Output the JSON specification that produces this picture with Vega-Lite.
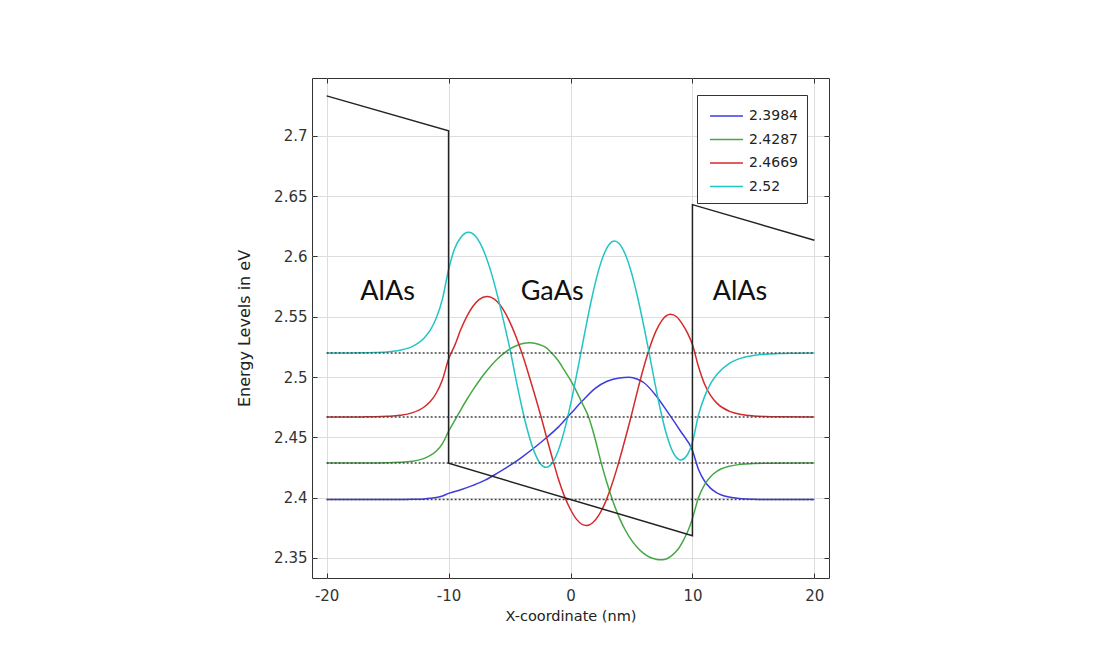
{
  "$schema": "https://vega.github.io/schema/vega-lite/v6.json",
  "width": 517,
  "height": 500,
  "autosize": {"type": "none"},
  "padding": {"left": 312, "top": 78, "right": 283, "bottom": 72},
  "background": "white",
  "config": {
    "view": {"stroke": "#333333", "strokeWidth": 1},
    "font": "DejaVu Sans",
    "axis": {
      "labelFont": "DejaVu Sans",
      "labelFontSize": 15,
      "labelColor": "#333333",
      "titleFont": "DejaVu Sans",
      "titleFontSize": 14.5,
      "titleFontWeight": "normal",
      "titleColor": "#222222",
      "domain": false,
      "tickColor": "#333333",
      "tickSize": -5,
      "tickWidth": 1,
      "gridColor": "#dddddd",
      "gridWidth": 1
    }
  },
  "resolve": {"axis": {"x": "independent", "y": "independent"}},
  "datasets": {
    "curves": [
      {"level": "2.3984", "x": -20, "E": 2.3984},
      {"level": "2.3984", "x": -14, "E": 2.3984},
      {"level": "2.3984", "x": -13, "E": 2.3986},
      {"level": "2.3984", "x": -12, "E": 2.399},
      {"level": "2.3984", "x": -11.5, "E": 2.3995},
      {"level": "2.3984", "x": -11, "E": 2.4002},
      {"level": "2.3984", "x": -10.5, "E": 2.4014},
      {"level": "2.3984", "x": -10, "E": 2.4036},
      {"level": "2.3984", "x": -9, "E": 2.4066},
      {"level": "2.3984", "x": -8, "E": 2.4102},
      {"level": "2.3984", "x": -7, "E": 2.4145},
      {"level": "2.3984", "x": -6, "E": 2.4203},
      {"level": "2.3984", "x": -5, "E": 2.4265},
      {"level": "2.3984", "x": -4, "E": 2.4335},
      {"level": "2.3984", "x": -3, "E": 2.4412},
      {"level": "2.3984", "x": -2, "E": 2.4495},
      {"level": "2.3984", "x": -1, "E": 2.4585},
      {"level": "2.3984", "x": 0, "E": 2.4695},
      {"level": "2.3984", "x": 1, "E": 2.4805},
      {"level": "2.3984", "x": 2, "E": 2.4905},
      {"level": "2.3984", "x": 3, "E": 2.4965},
      {"level": "2.3984", "x": 4, "E": 2.4993},
      {"level": "2.3984", "x": 4.8, "E": 2.4998},
      {"level": "2.3984", "x": 5.5, "E": 2.4982},
      {"level": "2.3984", "x": 6, "E": 2.4955},
      {"level": "2.3984", "x": 7, "E": 2.4848},
      {"level": "2.3984", "x": 8, "E": 2.4705},
      {"level": "2.3984", "x": 9, "E": 2.4555},
      {"level": "2.3984", "x": 10, "E": 2.4392},
      {"level": "2.3984", "x": 10.5, "E": 2.4234},
      {"level": "2.3984", "x": 11, "E": 2.4136},
      {"level": "2.3984", "x": 11.5, "E": 2.4077},
      {"level": "2.3984", "x": 12, "E": 2.404},
      {"level": "2.3984", "x": 13, "E": 2.4005},
      {"level": "2.3984", "x": 14, "E": 2.3992},
      {"level": "2.3984", "x": 15, "E": 2.3987},
      {"level": "2.3984", "x": 16, "E": 2.3985},
      {"level": "2.3984", "x": 20, "E": 2.3984},

      {"level": "2.4287", "x": -20, "E": 2.4287},
      {"level": "2.4287", "x": -16, "E": 2.4288},
      {"level": "2.4287", "x": -15, "E": 2.4289},
      {"level": "2.4287", "x": -14, "E": 2.4293},
      {"level": "2.4287", "x": -13, "E": 2.4302},
      {"level": "2.4287", "x": -12, "E": 2.4326},
      {"level": "2.4287", "x": -11.5, "E": 2.435},
      {"level": "2.4287", "x": -11, "E": 2.4387},
      {"level": "2.4287", "x": -10.5, "E": 2.4449},
      {"level": "2.4287", "x": -10, "E": 2.455},
      {"level": "2.4287", "x": -9.5, "E": 2.4639},
      {"level": "2.4287", "x": -9, "E": 2.4729},
      {"level": "2.4287", "x": -8.5, "E": 2.4814},
      {"level": "2.4287", "x": -8, "E": 2.4894},
      {"level": "2.4287", "x": -7.5, "E": 2.4968},
      {"level": "2.4287", "x": -7, "E": 2.5036},
      {"level": "2.4287", "x": -6.5, "E": 2.5097},
      {"level": "2.4287", "x": -6, "E": 2.515},
      {"level": "2.4287", "x": -5.5, "E": 2.5194},
      {"level": "2.4287", "x": -5, "E": 2.5231},
      {"level": "2.4287", "x": -4.5, "E": 2.5258},
      {"level": "2.4287", "x": -4, "E": 2.5276},
      {"level": "2.4287", "x": -3.3, "E": 2.5285},
      {"level": "2.4287", "x": -2.5, "E": 2.5268},
      {"level": "2.4287", "x": -2, "E": 2.5245},
      {"level": "2.4287", "x": -1.5, "E": 2.5195},
      {"level": "2.4287", "x": -1, "E": 2.5135},
      {"level": "2.4287", "x": -0.5, "E": 2.5055},
      {"level": "2.4287", "x": 0, "E": 2.4975},
      {"level": "2.4287", "x": 0.5, "E": 2.488},
      {"level": "2.4287", "x": 1, "E": 2.4775},
      {"level": "2.4287", "x": 1.5, "E": 2.4665},
      {"level": "2.4287", "x": 2, "E": 2.4495},
      {"level": "2.4287", "x": 2.5, "E": 2.4295},
      {"level": "2.4287", "x": 3, "E": 2.412},
      {"level": "2.4287", "x": 3.5, "E": 2.3965},
      {"level": "2.4287", "x": 4, "E": 2.3835},
      {"level": "2.4287", "x": 4.5, "E": 2.373},
      {"level": "2.4287", "x": 5, "E": 2.3648},
      {"level": "2.4287", "x": 5.5, "E": 2.3585},
      {"level": "2.4287", "x": 6, "E": 2.3538},
      {"level": "2.4287", "x": 6.5, "E": 2.3506},
      {"level": "2.4287", "x": 7, "E": 2.349},
      {"level": "2.4287", "x": 7.35, "E": 2.3485},
      {"level": "2.4287", "x": 7.8, "E": 2.349},
      {"level": "2.4287", "x": 8.3, "E": 2.352},
      {"level": "2.4287", "x": 8.8, "E": 2.357},
      {"level": "2.4287", "x": 9.3, "E": 2.3655},
      {"level": "2.4287", "x": 9.7, "E": 2.374},
      {"level": "2.4287", "x": 10, "E": 2.3827},
      {"level": "2.4287", "x": 10.5, "E": 2.4001},
      {"level": "2.4287", "x": 11, "E": 2.4109},
      {"level": "2.4287", "x": 11.5, "E": 2.4176},
      {"level": "2.4287", "x": 12, "E": 2.4218},
      {"level": "2.4287", "x": 13, "E": 2.426},
      {"level": "2.4287", "x": 14, "E": 2.4277},
      {"level": "2.4287", "x": 15, "E": 2.4283},
      {"level": "2.4287", "x": 16, "E": 2.4286},
      {"level": "2.4287", "x": 20, "E": 2.4287},

      {"level": "2.4669", "x": -20, "E": 2.4669},
      {"level": "2.4669", "x": -17, "E": 2.467},
      {"level": "2.4669", "x": -16, "E": 2.4671},
      {"level": "2.4669", "x": -15, "E": 2.4675},
      {"level": "2.4669", "x": -14, "E": 2.4683},
      {"level": "2.4669", "x": -13, "E": 2.4703},
      {"level": "2.4669", "x": -12, "E": 2.4752},
      {"level": "2.4669", "x": -11.5, "E": 2.4797},
      {"level": "2.4669", "x": -11, "E": 2.4868},
      {"level": "2.4669", "x": -10.5, "E": 2.4978},
      {"level": "2.4669", "x": -10, "E": 2.515},
      {"level": "2.4669", "x": -9.5, "E": 2.5261},
      {"level": "2.4669", "x": -9, "E": 2.5394},
      {"level": "2.4669", "x": -8.5, "E": 2.5504},
      {"level": "2.4669", "x": -8, "E": 2.5587},
      {"level": "2.4669", "x": -7.5, "E": 2.5643},
      {"level": "2.4669", "x": -6.85, "E": 2.5669},
      {"level": "2.4669", "x": -6.5, "E": 2.5661},
      {"level": "2.4669", "x": -6, "E": 2.5624},
      {"level": "2.4669", "x": -5.5, "E": 2.5557},
      {"level": "2.4669", "x": -5, "E": 2.5462},
      {"level": "2.4669", "x": -4.5, "E": 2.5343},
      {"level": "2.4669", "x": -4, "E": 2.5203},
      {"level": "2.4669", "x": -3.5, "E": 2.5045},
      {"level": "2.4669", "x": -3, "E": 2.4877},
      {"level": "2.4669", "x": -2.41, "E": 2.4669},
      {"level": "2.4669", "x": -2, "E": 2.4514},
      {"level": "2.4669", "x": -1.5, "E": 2.4331},
      {"level": "2.4669", "x": -1, "E": 2.4157},
      {"level": "2.4669", "x": -0.5, "E": 2.4013},
      {"level": "2.4669", "x": 0, "E": 2.3902},
      {"level": "2.4669", "x": 0.5, "E": 2.382},
      {"level": "2.4669", "x": 1.3, "E": 2.3769},
      {"level": "2.4669", "x": 1.8, "E": 2.379},
      {"level": "2.4669", "x": 2.3, "E": 2.3851},
      {"level": "2.4669", "x": 2.8, "E": 2.3949},
      {"level": "2.4669", "x": 3.3, "E": 2.4081},
      {"level": "2.4669", "x": 3.8, "E": 2.4239},
      {"level": "2.4669", "x": 4.3, "E": 2.4418},
      {"level": "2.4669", "x": 4.96, "E": 2.4669},
      {"level": "2.4669", "x": 5.5, "E": 2.4889},
      {"level": "2.4669", "x": 6, "E": 2.508},
      {"level": "2.4669", "x": 6.5, "E": 2.5246},
      {"level": "2.4669", "x": 7, "E": 2.5379},
      {"level": "2.4669", "x": 7.5, "E": 2.547},
      {"level": "2.4669", "x": 8.2, "E": 2.552},
      {"level": "2.4669", "x": 8.7, "E": 2.55},
      {"level": "2.4669", "x": 9.2, "E": 2.5435},
      {"level": "2.4669", "x": 9.6, "E": 2.5365},
      {"level": "2.4669", "x": 10, "E": 2.527},
      {"level": "2.4669", "x": 10.5, "E": 2.5085},
      {"level": "2.4669", "x": 11, "E": 2.4940},
      {"level": "2.4669", "x": 11.5, "E": 2.4846},
      {"level": "2.4669", "x": 12, "E": 2.4784},
      {"level": "2.4669", "x": 13, "E": 2.4718},
      {"level": "2.4669", "x": 14, "E": 2.469},
      {"level": "2.4669", "x": 15, "E": 2.4678},
      {"level": "2.4669", "x": 16, "E": 2.4673},
      {"level": "2.4669", "x": 17, "E": 2.4671},
      {"level": "2.4669", "x": 20, "E": 2.4669},

      {"level": "2.52", "x": -20, "E": 2.52},
      {"level": "2.52", "x": -18, "E": 2.52},
      {"level": "2.52", "x": -17, "E": 2.5202},
      {"level": "2.52", "x": -16, "E": 2.5204},
      {"level": "2.52", "x": -15, "E": 2.5209},
      {"level": "2.52", "x": -14, "E": 2.5222},
      {"level": "2.52", "x": -13, "E": 2.5252},
      {"level": "2.52", "x": -12, "E": 2.5324},
      {"level": "2.52", "x": -11.5, "E": 2.539},
      {"level": "2.52", "x": -11, "E": 2.5492},
      {"level": "2.52", "x": -10.5, "E": 2.5649},
      {"level": "2.52", "x": -10, "E": 2.589},
      {"level": "2.52", "x": -9.5, "E": 2.6066},
      {"level": "2.52", "x": -9, "E": 2.6157},
      {"level": "2.52", "x": -8.35, "E": 2.62},
      {"level": "2.52", "x": -7.5, "E": 2.6126},
      {"level": "2.52", "x": -7, "E": 2.6017},
      {"level": "2.52", "x": -6.5, "E": 2.5866},
      {"level": "2.52", "x": -6, "E": 2.568},
      {"level": "2.52", "x": -5.5, "E": 2.547},
      {"level": "2.52", "x": -4.9, "E": 2.52},
      {"level": "2.52", "x": -4.5, "E": 2.4996},
      {"level": "2.52", "x": -4, "E": 2.4756},
      {"level": "2.52", "x": -3.5, "E": 2.4549},
      {"level": "2.52", "x": -3, "E": 2.4388},
      {"level": "2.52", "x": -2.5, "E": 2.4286},
      {"level": "2.52", "x": -2, "E": 2.4252},
      {"level": "2.52", "x": -1.5, "E": 2.4288},
      {"level": "2.52", "x": -1, "E": 2.4392},
      {"level": "2.52", "x": -0.5, "E": 2.4558},
      {"level": "2.52", "x": 0, "E": 2.4771},
      {"level": "2.52", "x": 0.5, "E": 2.5018},
      {"level": "2.52", "x": 0.85, "E": 2.52},
      {"level": "2.52", "x": 1.25, "E": 2.541},
      {"level": "2.52", "x": 1.75, "E": 2.5656},
      {"level": "2.52", "x": 2.25, "E": 2.5866},
      {"level": "2.52", "x": 2.75, "E": 2.602},
      {"level": "2.52", "x": 3.2, "E": 2.6104},
      {"level": "2.52", "x": 3.6, "E": 2.6128},
      {"level": "2.52", "x": 4, "E": 2.6106},
      {"level": "2.52", "x": 4.5, "E": 2.6016},
      {"level": "2.52", "x": 5, "E": 2.5865},
      {"level": "2.52", "x": 5.5, "E": 2.5664},
      {"level": "2.52", "x": 6, "E": 2.5428},
      {"level": "2.52", "x": 6.45, "E": 2.52},
      {"level": "2.52", "x": 6.9, "E": 2.4961},
      {"level": "2.52", "x": 7.4, "E": 2.4717},
      {"level": "2.52", "x": 7.9, "E": 2.4516},
      {"level": "2.52", "x": 8.4, "E": 2.4378},
      {"level": "2.52", "x": 9.05, "E": 2.4313},
      {"level": "2.52", "x": 9.5, "E": 2.4343},
      {"level": "2.52", "x": 10, "E": 2.446},
      {"level": "2.52", "x": 10.5, "E": 2.4687},
      {"level": "2.52", "x": 11, "E": 2.484},
      {"level": "2.52", "x": 11.5, "E": 2.4947},
      {"level": "2.52", "x": 12, "E": 2.5022},
      {"level": "2.52", "x": 13, "E": 2.5112},
      {"level": "2.52", "x": 14, "E": 2.5157},
      {"level": "2.52", "x": 15, "E": 2.5179},
      {"level": "2.52", "x": 16, "E": 2.519},
      {"level": "2.52", "x": 17, "E": 2.5195},
      {"level": "2.52", "x": 18, "E": 2.5198},
      {"level": "2.52", "x": 20, "E": 2.52}
    ],
    "levels": [
      {"E": 2.3984},
      {"E": 2.4287},
      {"E": 2.4669},
      {"E": 2.52}
    ],
    "potential": [
      {"i": 0, "x": -20, "E": 2.7332},
      {"i": 1, "x": -10, "E": 2.7042},
      {"i": 2, "x": -10, "E": 2.4285},
      {"i": 3, "x": 10, "E": 2.3685},
      {"i": 4, "x": 10, "E": 2.643},
      {"i": 5, "x": 20, "E": 2.6135}
    ],
    "labels": [
      {"label": "AlAs", "x": -15.0, "E": 2.5704},
      {"label": "GaAs", "x": -1.5, "E": 2.5704},
      {"label": "AlAs", "x": 13.9, "E": 2.5704}
    ]
  },
  "layer": [
    {
      "data": {"name": "curves"},
      "mark": {"type": "line", "interpolate": "monotone", "strokeWidth": 1.5},
      "encoding": {
        "x": {
          "field": "x", "type": "quantitative",
          "scale": {"domain": [-21.2, 21.2], "nice": false, "zero": false},
          "axis": {"orient": "bottom", "values": [-20, -10, 0, 10, 20], "grid": true, "labelPadding": 15, "labelExpr": "replace(datum.label, '\u2212', '-')", "title": "X-coordinate (nm)", "titlePadding": 6}
        },
        "y": {
          "field": "E", "type": "quantitative",
          "scale": {"domain": [2.3334, 2.748], "nice": false, "zero": false},
          "axis": {"orient": "left", "values": [2.35, 2.4, 2.45, 2.5, 2.55, 2.6, 2.65, 2.7], "format": "~g", "grid": true, "labelPadding": 10, "title": "Energy Levels in eV", "titleFontSize": 16, "titlePadding": 21}
        },
        "color": {
          "field": "level", "type": "nominal",
          "scale": {"domain": ["2.3984", "2.4287", "2.4669", "2.52"], "range": ["#3c3ce0", "#45a845", "#d42a2a", "#22c4c4"]},
          "legend": {
            "title": null, "orient": "none", "legendX": 385, "legendY": 17,
            "fillColor": "white", "strokeColor": "#333333", "padding": 9,
            "symbolType": "M-0.73,0H2.27", "symbolSize": 484, "symbolStrokeWidth": 1.5,
            "labelFont": "DejaVu Sans", "labelFontSize": 14, "labelColor": "#222222",
            "labelOffset": 19, "rowPadding": 4.5
          }
        }
      }
    },
    {
      "data": {"name": "levels"},
      "mark": {"type": "rule", "strokeDash": [2, 2], "color": "#444444", "strokeWidth": 1.5},
      "encoding": {
        "x": {"datum": -20, "type": "quantitative", "axis": null},
        "x2": {"datum": 20},
        "y": {"field": "E", "type": "quantitative", "axis": null}
      }
    },
    {
      "data": {"name": "potential"},
      "mark": {"type": "line", "color": "#222222", "strokeWidth": 1.5},
      "encoding": {
        "x": {"field": "x", "type": "quantitative", "axis": {"orient": "top", "values": [-20, -10, 0, 10, 20], "labels": false, "grid": false, "title": null}},
        "y": {"field": "E", "type": "quantitative", "axis": {"orient": "right", "values": [2.35, 2.4, 2.45, 2.5, 2.55, 2.6, 2.65, 2.7], "labels": false, "grid": false, "title": null}},
        "order": {"field": "i", "type": "quantitative"}
      }
    },
    {
      "data": {"name": "labels"},
      "mark": {"type": "text", "font": "Lato", "fontSize": 27, "color": "#111111", "align": "center", "baseline": "middle"},
      "encoding": {
        "x": {"field": "x", "type": "quantitative", "axis": null},
        "y": {"field": "E", "type": "quantitative", "axis": null},
        "text": {"field": "label"}
      }
    }
  ]
}
